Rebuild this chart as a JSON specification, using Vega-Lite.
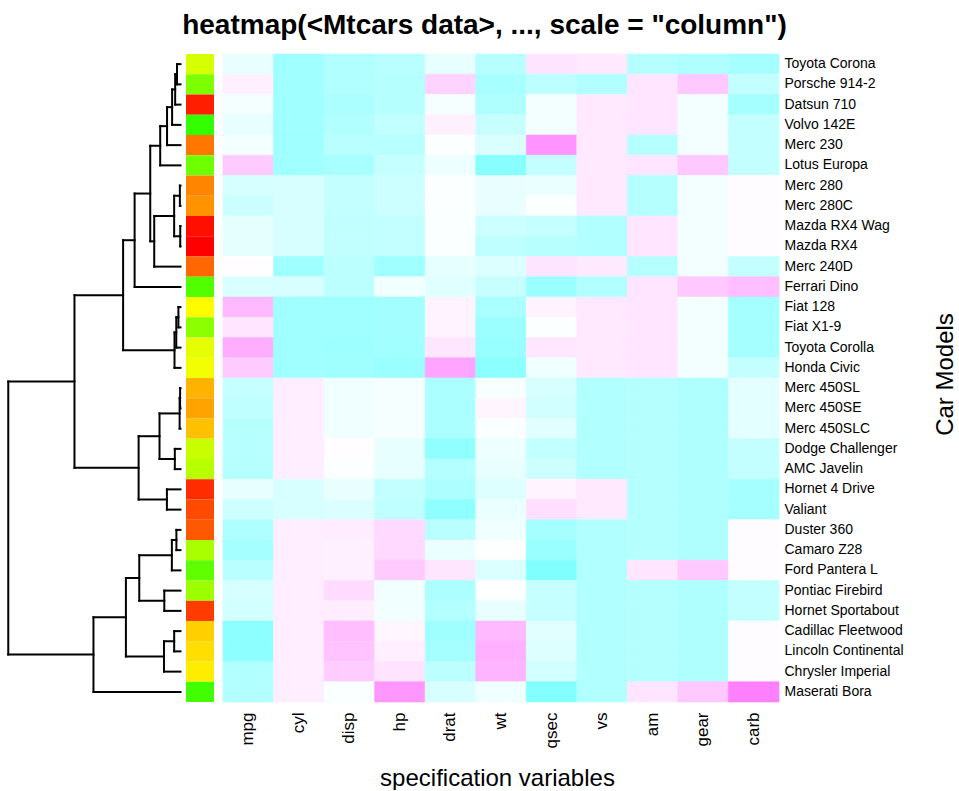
{
  "$schema": "https://vega.github.io/schema/vega-lite/v6.json",
  "background": "white",
  "padding": {"left": 0, "top": 11, "right": 0, "bottom": 0},
  "title": {"text": "heatmap(<Mtcars data>, ..., scale = \"column\")", "fontSize": 28, "fontWeight": "bold", "font": "Liberation Sans", "color": "black", "anchor": "middle", "offset": 14, "dx": 6},
  "config": {"view": {"stroke": null}, "font": "Liberation Sans"},
  "datasets": {
    "tree": [
      {"h": 8.65, "yl": 1, "hl": 0, "yr": 2, "hr": 0},
      {"h": 13.14, "yl": 1.5, "hl": 8.65, "yr": 3, "hr": 0},
      {"h": 20.7, "yl": 2.25, "hl": 13.14, "yr": 4, "hr": 0},
      {"h": 33.2, "yl": 3.125, "hl": 20.7, "yr": 5, "hr": 0},
      {"h": 50.1, "yl": 4.0625, "hl": 33.2, "yr": 6, "hr": 0},
      {"h": 1.52, "yl": 7, "hl": 0, "yr": 8, "hr": 0},
      {"h": 0.62, "yl": 9, "hl": 0, "yr": 10, "hr": 0},
      {"h": 15.67, "yl": 7.5, "hl": 1.52, "yr": 9.5, "hr": 0.62},
      {"h": 64.86, "yl": 8.5, "hl": 15.67, "yr": 11, "hr": 0},
      {"h": 74.7, "yl": 5.03125, "hl": 50.1, "yr": 9.75, "hr": 64.86},
      {"h": 113.3, "yl": 7.390625, "hl": 74.7, "yr": 12, "hr": 0},
      {"h": 5.15, "yl": 13, "hl": 0, "yr": 14, "hr": 0},
      {"h": 10.4, "yl": 13.5, "hl": 5.15, "yr": 15, "hr": 0},
      {"h": 14.8, "yl": 14.25, "hl": 10.4, "yr": 16, "hr": 0},
      {"h": 141.7, "yl": 9.6953, "hl": 113.3, "yr": 15.125, "hr": 14.8},
      {"h": 0.98, "yl": 17, "hl": 0, "yr": 18, "hr": 0},
      {"h": 2.14, "yl": 17.5, "hl": 0.98, "yr": 19, "hr": 0},
      {"h": 14.0, "yl": 20, "hl": 0, "yr": 21, "hr": 0},
      {"h": 51.8, "yl": 18.25, "hl": 2.14, "yr": 20.5, "hr": 14.0},
      {"h": 33.55, "yl": 22, "hl": 0, "yr": 23, "hr": 0},
      {"h": 103.4, "yl": 19.375, "hl": 51.8, "yr": 22.5, "hr": 33.55},
      {"h": 261.8, "yl": 12.4102, "hl": 141.7, "yr": 20.9375, "hr": 103.4},
      {"h": 10.1, "yl": 24, "hl": 0, "yr": 25, "hr": 0},
      {"h": 21.3, "yl": 24.5, "hl": 10.1, "yr": 26, "hr": 0},
      {"h": 40.0, "yl": 27, "hl": 0, "yr": 28, "hr": 0},
      {"h": 101.8, "yl": 25.25, "hl": 21.3, "yr": 27.5, "hr": 40.0},
      {"h": 15.6, "yl": 29, "hl": 0, "yr": 30, "hr": 0},
      {"h": 40.8, "yl": 29.5, "hl": 15.6, "yr": 31, "hr": 0},
      {"h": 134.8, "yl": 26.375, "hl": 101.8, "yr": 30.25, "hr": 40.8},
      {"h": 214.9, "yl": 28.3125, "hl": 134.8, "yr": 32, "hr": 0},
      {"h": 425.3, "yl": 16.6738, "hl": 261.8, "yr": 30.1563, "hr": 214.9}
    ],
    "cars": [
      {"car": "Toyota Corona"}, {"car": "Porsche 914-2"}, {"car": "Datsun 710"}, {"car": "Volvo 142E"},
      {"car": "Merc 230"}, {"car": "Lotus Europa"}, {"car": "Merc 280"}, {"car": "Merc 280C"},
      {"car": "Mazda RX4 Wag"}, {"car": "Mazda RX4"}, {"car": "Merc 240D"}, {"car": "Ferrari Dino"},
      {"car": "Fiat 128"}, {"car": "Fiat X1-9"}, {"car": "Toyota Corolla"}, {"car": "Honda Civic"},
      {"car": "Merc 450SL"}, {"car": "Merc 450SE"}, {"car": "Merc 450SLC"}, {"car": "Dodge Challenger"},
      {"car": "AMC Javelin"}, {"car": "Hornet 4 Drive"}, {"car": "Valiant"}, {"car": "Duster 360"},
      {"car": "Camaro Z28"}, {"car": "Ford Pantera L"}, {"car": "Pontiac Firebird"}, {"car": "Hornet Sportabout"},
      {"car": "Cadillac Fleetwood"}, {"car": "Lincoln Continental"}, {"car": "Chrysler Imperial"}, {"car": "Maserati Bora"}
    ],
    "cells": [
      {"car":"Toyota Corona","v":"mpg","z":0.234},{"car":"Toyota Corona","v":"cyl","z":-1.225},{"car":"Toyota Corona","v":"disp","z":-0.893},{"car":"Toyota Corona","v":"hp","z":-0.725},{"car":"Toyota Corona","v":"drat","z":0.193},{"car":"Toyota Corona","v":"wt","z":-0.769},{"car":"Toyota Corona","v":"qsec","z":1.209},{"car":"Toyota Corona","v":"vs","z":1.116},{"car":"Toyota Corona","v":"am","z":-0.814},{"car":"Toyota Corona","v":"gear","z":-0.932},{"car":"Toyota Corona","v":"carb","z":-1.122},
      {"car":"Porsche 914-2","v":"mpg","z":0.981},{"car":"Porsche 914-2","v":"cyl","z":-1.225},{"car":"Porsche 914-2","v":"disp","z":-0.891},{"car":"Porsche 914-2","v":"hp","z":-0.812},{"car":"Porsche 914-2","v":"drat","z":1.559},{"car":"Porsche 914-2","v":"wt","z":-1.101},{"car":"Porsche 914-2","v":"qsec","z":-0.643},{"car":"Porsche 914-2","v":"vs","z":-0.868},{"car":"Porsche 914-2","v":"am","z":1.19},{"car":"Porsche 914-2","v":"gear","z":1.779},{"car":"Porsche 914-2","v":"carb","z":-0.503},
      {"car":"Datsun 710","v":"mpg","z":0.45},{"car":"Datsun 710","v":"cyl","z":-1.225},{"car":"Datsun 710","v":"disp","z":-0.99},{"car":"Datsun 710","v":"hp","z":-0.783},{"car":"Datsun 710","v":"drat","z":0.474},{"car":"Datsun 710","v":"wt","z":-0.917},{"car":"Datsun 710","v":"qsec","z":0.426},{"car":"Datsun 710","v":"vs","z":1.116},{"car":"Datsun 710","v":"am","z":1.19},{"car":"Datsun 710","v":"gear","z":0.424},{"car":"Datsun 710","v":"carb","z":-1.122},
      {"car":"Volvo 142E","v":"mpg","z":0.217},{"car":"Volvo 142E","v":"cyl","z":-1.225},{"car":"Volvo 142E","v":"disp","z":-0.885},{"car":"Volvo 142E","v":"hp","z":-0.55},{"car":"Volvo 142E","v":"drat","z":0.96},{"car":"Volvo 142E","v":"wt","z":-0.447},{"car":"Volvo 142E","v":"qsec","z":0.42},{"car":"Volvo 142E","v":"vs","z":1.116},{"car":"Volvo 142E","v":"am","z":1.19},{"car":"Volvo 142E","v":"gear","z":0.424},{"car":"Volvo 142E","v":"carb","z":-0.503},
      {"car":"Merc 230","v":"mpg","z":0.45},{"car":"Merc 230","v":"cyl","z":-1.225},{"car":"Merc 230","v":"disp","z":-0.726},{"car":"Merc 230","v":"hp","z":-0.754},{"car":"Merc 230","v":"drat","z":0.605},{"car":"Merc 230","v":"wt","z":-0.069},{"car":"Merc 230","v":"qsec","z":2.827},{"car":"Merc 230","v":"vs","z":1.116},{"car":"Merc 230","v":"am","z":-0.814},{"car":"Merc 230","v":"gear","z":0.424},{"car":"Merc 230","v":"carb","z":-0.503},
      {"car":"Lotus Europa","v":"mpg","z":1.711},{"car":"Lotus Europa","v":"cyl","z":-1.225},{"car":"Lotus Europa","v":"disp","z":-1.094},{"car":"Lotus Europa","v":"hp","z":-0.491},{"car":"Lotus Europa","v":"drat","z":0.324},{"car":"Lotus Europa","v":"wt","z":-1.742},{"car":"Lotus Europa","v":"qsec","z":-0.531},{"car":"Lotus Europa","v":"vs","z":1.116},{"car":"Lotus Europa","v":"am","z":1.19},{"car":"Lotus Europa","v":"gear","z":1.779},{"car":"Lotus Europa","v":"carb","z":-0.503},
      {"car":"Merc 280","v":"mpg","z":-0.148},{"car":"Merc 280","v":"cyl","z":-0.105},{"car":"Merc 280","v":"disp","z":-0.509},{"car":"Merc 280","v":"hp","z":-0.346},{"car":"Merc 280","v":"drat","z":0.605},{"car":"Merc 280","v":"wt","z":0.228},{"car":"Merc 280","v":"qsec","z":0.253},{"car":"Merc 280","v":"vs","z":1.116},{"car":"Merc 280","v":"am","z":-0.814},{"car":"Merc 280","v":"gear","z":0.424},{"car":"Merc 280","v":"carb","z":0.735},
      {"car":"Merc 280C","v":"mpg","z":-0.38},{"car":"Merc 280C","v":"cyl","z":-0.105},{"car":"Merc 280C","v":"disp","z":-0.509},{"car":"Merc 280C","v":"hp","z":-0.346},{"car":"Merc 280C","v":"drat","z":0.605},{"car":"Merc 280C","v":"wt","z":0.228},{"car":"Merc 280C","v":"qsec","z":0.588},{"car":"Merc 280C","v":"vs","z":1.116},{"car":"Merc 280C","v":"am","z":-0.814},{"car":"Merc 280C","v":"gear","z":0.424},{"car":"Merc 280C","v":"carb","z":0.735},
      {"car":"Mazda RX4 Wag","v":"mpg","z":0.151},{"car":"Mazda RX4 Wag","v":"cyl","z":-0.105},{"car":"Mazda RX4 Wag","v":"disp","z":-0.571},{"car":"Mazda RX4 Wag","v":"hp","z":-0.535},{"car":"Mazda RX4 Wag","v":"drat","z":0.568},{"car":"Mazda RX4 Wag","v":"wt","z":-0.35},{"car":"Mazda RX4 Wag","v":"qsec","z":-0.464},{"car":"Mazda RX4 Wag","v":"vs","z":-0.868},{"car":"Mazda RX4 Wag","v":"am","z":1.19},{"car":"Mazda RX4 Wag","v":"gear","z":0.424},{"car":"Mazda RX4 Wag","v":"carb","z":0.735},
      {"car":"Mazda RX4","v":"mpg","z":0.151},{"car":"Mazda RX4","v":"cyl","z":-0.105},{"car":"Mazda RX4","v":"disp","z":-0.571},{"car":"Mazda RX4","v":"hp","z":-0.535},{"car":"Mazda RX4","v":"drat","z":0.568},{"car":"Mazda RX4","v":"wt","z":-0.61},{"car":"Mazda RX4","v":"qsec","z":-0.777},{"car":"Mazda RX4","v":"vs","z":-0.868},{"car":"Mazda RX4","v":"am","z":1.19},{"car":"Mazda RX4","v":"gear","z":0.424},{"car":"Mazda RX4","v":"carb","z":0.735},
      {"car":"Merc 240D","v":"mpg","z":0.715},{"car":"Merc 240D","v":"cyl","z":-1.225},{"car":"Merc 240D","v":"disp","z":-0.678},{"car":"Merc 240D","v":"hp","z":-1.235},{"car":"Merc 240D","v":"drat","z":0.175},{"car":"Merc 240D","v":"wt","z":-0.028},{"car":"Merc 240D","v":"qsec","z":1.204},{"car":"Merc 240D","v":"vs","z":1.116},{"car":"Merc 240D","v":"am","z":-0.814},{"car":"Merc 240D","v":"gear","z":0.424},{"car":"Merc 240D","v":"carb","z":-0.503},
      {"car":"Ferrari Dino","v":"mpg","z":-0.065},{"car":"Ferrari Dino","v":"cyl","z":-0.105},{"car":"Ferrari Dino","v":"disp","z":-0.692},{"car":"Ferrari Dino","v":"hp","z":0.413},{"car":"Ferrari Dino","v":"drat","z":0.044},{"car":"Ferrari Dino","v":"wt","z":-0.457},{"car":"Ferrari Dino","v":"qsec","z":-1.314},{"car":"Ferrari Dino","v":"vs","z":-0.868},{"car":"Ferrari Dino","v":"am","z":1.19},{"car":"Ferrari Dino","v":"gear","z":1.779},{"car":"Ferrari Dino","v":"carb","z":1.974},
      {"car":"Fiat 128","v":"mpg","z":2.042},{"car":"Fiat 128","v":"cyl","z":-1.225},{"car":"Fiat 128","v":"disp","z":-1.227},{"car":"Fiat 128","v":"hp","z":-1.177},{"car":"Fiat 128","v":"drat","z":0.904},{"car":"Fiat 128","v":"wt","z":-1.04},{"car":"Fiat 128","v":"qsec","z":0.907},{"car":"Fiat 128","v":"vs","z":1.116},{"car":"Fiat 128","v":"am","z":1.19},{"car":"Fiat 128","v":"gear","z":0.424},{"car":"Fiat 128","v":"carb","z":-1.122},
      {"car":"Fiat X1-9","v":"mpg","z":1.196},{"car":"Fiat X1-9","v":"cyl","z":-1.225},{"car":"Fiat X1-9","v":"disp","z":-1.224},{"car":"Fiat X1-9","v":"hp","z":-1.177},{"car":"Fiat X1-9","v":"drat","z":0.904},{"car":"Fiat X1-9","v":"wt","z":-1.31},{"car":"Fiat X1-9","v":"qsec","z":0.588},{"car":"Fiat X1-9","v":"vs","z":1.116},{"car":"Fiat X1-9","v":"am","z":1.19},{"car":"Fiat X1-9","v":"gear","z":0.424},{"car":"Fiat X1-9","v":"carb","z":-1.122},
      {"car":"Toyota Corolla","v":"mpg","z":2.291},{"car":"Toyota Corolla","v":"cyl","z":-1.225},{"car":"Toyota Corolla","v":"disp","z":-1.288},{"car":"Toyota Corolla","v":"hp","z":-1.192},{"car":"Toyota Corolla","v":"drat","z":1.166},{"car":"Toyota Corolla","v":"wt","z":-1.413},{"car":"Toyota Corolla","v":"qsec","z":1.148},{"car":"Toyota Corolla","v":"vs","z":1.116},{"car":"Toyota Corolla","v":"am","z":1.19},{"car":"Toyota Corolla","v":"gear","z":0.424},{"car":"Toyota Corolla","v":"carb","z":-1.122},
      {"car":"Honda Civic","v":"mpg","z":1.711},{"car":"Honda Civic","v":"cyl","z":-1.225},{"car":"Honda Civic","v":"disp","z":-1.251},{"car":"Honda Civic","v":"hp","z":-1.381},{"car":"Honda Civic","v":"drat","z":2.494},{"car":"Honda Civic","v":"wt","z":-1.638},{"car":"Honda Civic","v":"qsec","z":0.376},{"car":"Honda Civic","v":"vs","z":1.116},{"car":"Honda Civic","v":"am","z":1.19},{"car":"Honda Civic","v":"gear","z":0.424},{"car":"Honda Civic","v":"carb","z":-0.503},
      {"car":"Merc 450SL","v":"mpg","z":-0.463},{"car":"Merc 450SL","v":"cyl","z":1.015},{"car":"Merc 450SL","v":"disp","z":0.364},{"car":"Merc 450SL","v":"hp","z":0.486},{"car":"Merc 450SL","v":"drat","z":-0.985},{"car":"Merc 450SL","v":"wt","z":0.524},{"car":"Merc 450SL","v":"qsec","z":-0.139},{"car":"Merc 450SL","v":"vs","z":-0.868},{"car":"Merc 450SL","v":"am","z":-0.814},{"car":"Merc 450SL","v":"gear","z":-0.932},{"car":"Merc 450SL","v":"carb","z":0.116},
      {"car":"Merc 450SE","v":"mpg","z":-0.612},{"car":"Merc 450SE","v":"cyl","z":1.015},{"car":"Merc 450SE","v":"disp","z":0.364},{"car":"Merc 450SE","v":"hp","z":0.486},{"car":"Merc 450SE","v":"drat","z":-0.985},{"car":"Merc 450SE","v":"wt","z":0.872},{"car":"Merc 450SE","v":"qsec","z":-0.251},{"car":"Merc 450SE","v":"vs","z":-0.868},{"car":"Merc 450SE","v":"am","z":-0.814},{"car":"Merc 450SE","v":"gear","z":-0.932},{"car":"Merc 450SE","v":"carb","z":0.116},
      {"car":"Merc 450SLC","v":"mpg","z":-0.812},{"car":"Merc 450SLC","v":"cyl","z":1.015},{"car":"Merc 450SLC","v":"disp","z":0.364},{"car":"Merc 450SLC","v":"hp","z":0.486},{"car":"Merc 450SLC","v":"drat","z":-0.985},{"car":"Merc 450SLC","v":"wt","z":0.575},{"car":"Merc 450SLC","v":"qsec","z":0.085},{"car":"Merc 450SLC","v":"vs","z":-0.868},{"car":"Merc 450SLC","v":"am","z":-0.814},{"car":"Merc 450SLC","v":"gear","z":-0.932},{"car":"Merc 450SLC","v":"carb","z":0.116},
      {"car":"Dodge Challenger","v":"mpg","z":-0.762},{"car":"Dodge Challenger","v":"cyl","z":1.015},{"car":"Dodge Challenger","v":"disp","z":0.704},{"car":"Dodge Challenger","v":"hp","z":0.194},{"car":"Dodge Challenger","v":"drat","z":-1.565},{"car":"Dodge Challenger","v":"wt","z":0.309},{"car":"Dodge Challenger","v":"qsec","z":-0.548},{"car":"Dodge Challenger","v":"vs","z":-0.868},{"car":"Dodge Challenger","v":"am","z":-0.814},{"car":"Dodge Challenger","v":"gear","z":-0.932},{"car":"Dodge Challenger","v":"carb","z":-0.503},
      {"car":"AMC Javelin","v":"mpg","z":-0.812},{"car":"AMC Javelin","v":"cyl","z":1.015},{"car":"AMC Javelin","v":"disp","z":0.591},{"car":"AMC Javelin","v":"hp","z":0.194},{"car":"AMC Javelin","v":"drat","z":-0.835},{"car":"AMC Javelin","v":"wt","z":0.223},{"car":"AMC Javelin","v":"qsec","z":-0.307},{"car":"AMC Javelin","v":"vs","z":-0.868},{"car":"AMC Javelin","v":"am","z":-0.814},{"car":"AMC Javelin","v":"gear","z":-0.932},{"car":"AMC Javelin","v":"carb","z":-0.503},
      {"car":"Hornet 4 Drive","v":"mpg","z":0.217},{"car":"Hornet 4 Drive","v":"cyl","z":-0.105},{"car":"Hornet 4 Drive","v":"disp","z":0.22},{"car":"Hornet 4 Drive","v":"hp","z":-0.535},{"car":"Hornet 4 Drive","v":"drat","z":-0.966},{"car":"Hornet 4 Drive","v":"wt","z":-0.002},{"car":"Hornet 4 Drive","v":"qsec","z":0.89},{"car":"Hornet 4 Drive","v":"vs","z":1.116},{"car":"Hornet 4 Drive","v":"am","z":-0.814},{"car":"Hornet 4 Drive","v":"gear","z":-0.932},{"car":"Hornet 4 Drive","v":"carb","z":-1.122},
      {"car":"Valiant","v":"mpg","z":-0.33},{"car":"Valiant","v":"cyl","z":-0.105},{"car":"Valiant","v":"disp","z":-0.046},{"car":"Valiant","v":"hp","z":-0.608},{"car":"Valiant","v":"drat","z":-1.565},{"car":"Valiant","v":"wt","z":0.248},{"car":"Valiant","v":"qsec","z":1.327},{"car":"Valiant","v":"vs","z":1.116},{"car":"Valiant","v":"am","z":-0.814},{"car":"Valiant","v":"gear","z":-0.932},{"car":"Valiant","v":"carb","z":-1.122},
      {"car":"Duster 360","v":"mpg","z":-0.961},{"car":"Duster 360","v":"cyl","z":1.015},{"car":"Duster 360","v":"disp","z":1.043},{"car":"Duster 360","v":"hp","z":1.434},{"car":"Duster 360","v":"drat","z":-0.723},{"car":"Duster 360","v":"wt","z":0.361},{"car":"Duster 360","v":"qsec","z":-1.124},{"car":"Duster 360","v":"vs","z":-0.868},{"car":"Duster 360","v":"am","z":-0.814},{"car":"Duster 360","v":"gear","z":-0.932},{"car":"Duster 360","v":"carb","z":0.735},
      {"car":"Camaro Z28","v":"mpg","z":-1.127},{"car":"Camaro Z28","v":"cyl","z":1.015},{"car":"Camaro Z28","v":"disp","z":0.962},{"car":"Camaro Z28","v":"hp","z":1.434},{"car":"Camaro Z28","v":"drat","z":0.25},{"car":"Camaro Z28","v":"wt","z":0.636},{"car":"Camaro Z28","v":"qsec","z":-1.365},{"car":"Camaro Z28","v":"vs","z":-0.868},{"car":"Camaro Z28","v":"am","z":-0.814},{"car":"Camaro Z28","v":"gear","z":-0.932},{"car":"Camaro Z28","v":"carb","z":0.735},
      {"car":"Ford Pantera L","v":"mpg","z":-0.712},{"car":"Ford Pantera L","v":"cyl","z":1.015},{"car":"Ford Pantera L","v":"disp","z":0.97},{"car":"Ford Pantera L","v":"hp","z":1.711},{"car":"Ford Pantera L","v":"drat","z":1.166},{"car":"Ford Pantera L","v":"wt","z":-0.048},{"car":"Ford Pantera L","v":"qsec","z":-1.874},{"car":"Ford Pantera L","v":"vs","z":-0.868},{"car":"Ford Pantera L","v":"am","z":1.19},{"car":"Ford Pantera L","v":"gear","z":1.779},{"car":"Ford Pantera L","v":"carb","z":0.735},
      {"car":"Pontiac Firebird","v":"mpg","z":-0.148},{"car":"Pontiac Firebird","v":"cyl","z":1.015},{"car":"Pontiac Firebird","v":"disp","z":1.366},{"car":"Pontiac Firebird","v":"hp","z":0.413},{"car":"Pontiac Firebird","v":"drat","z":-0.966},{"car":"Pontiac Firebird","v":"wt","z":0.642},{"car":"Pontiac Firebird","v":"qsec","z":-0.447},{"car":"Pontiac Firebird","v":"vs","z":-0.868},{"car":"Pontiac Firebird","v":"am","z":-0.814},{"car":"Pontiac Firebird","v":"gear","z":-0.932},{"car":"Pontiac Firebird","v":"carb","z":-0.503},
      {"car":"Hornet Sportabout","v":"mpg","z":-0.231},{"car":"Hornet Sportabout","v":"cyl","z":1.015},{"car":"Hornet Sportabout","v":"disp","z":1.043},{"car":"Hornet Sportabout","v":"hp","z":0.413},{"car":"Hornet Sportabout","v":"drat","z":-0.835},{"car":"Hornet Sportabout","v":"wt","z":0.228},{"car":"Hornet Sportabout","v":"qsec","z":-0.464},{"car":"Hornet Sportabout","v":"vs","z":-0.868},{"car":"Hornet Sportabout","v":"am","z":-0.814},{"car":"Hornet Sportabout","v":"gear","z":-0.932},{"car":"Hornet Sportabout","v":"carb","z":-0.503},
      {"car":"Cadillac Fleetwood","v":"mpg","z":-1.608},{"car":"Cadillac Fleetwood","v":"cyl","z":1.015},{"car":"Cadillac Fleetwood","v":"disp","z":1.947},{"car":"Cadillac Fleetwood","v":"hp","z":0.85},{"car":"Cadillac Fleetwood","v":"drat","z":-1.247},{"car":"Cadillac Fleetwood","v":"wt","z":2.077},{"car":"Cadillac Fleetwood","v":"qsec","z":0.073},{"car":"Cadillac Fleetwood","v":"vs","z":-0.868},{"car":"Cadillac Fleetwood","v":"am","z":-0.814},{"car":"Cadillac Fleetwood","v":"gear","z":-0.932},{"car":"Cadillac Fleetwood","v":"carb","z":0.735},
      {"car":"Lincoln Continental","v":"mpg","z":-1.608},{"car":"Lincoln Continental","v":"cyl","z":1.015},{"car":"Lincoln Continental","v":"disp","z":1.85},{"car":"Lincoln Continental","v":"hp","z":0.996},{"car":"Lincoln Continental","v":"drat","z":-1.116},{"car":"Lincoln Continental","v":"wt","z":2.255},{"car":"Lincoln Continental","v":"qsec","z":-0.016},{"car":"Lincoln Continental","v":"vs","z":-0.868},{"car":"Lincoln Continental","v":"am","z":-0.814},{"car":"Lincoln Continental","v":"gear","z":-0.932},{"car":"Lincoln Continental","v":"carb","z":0.735},
      {"car":"Chrysler Imperial","v":"mpg","z":-0.894},{"car":"Chrysler Imperial","v":"cyl","z":1.015},{"car":"Chrysler Imperial","v":"disp","z":1.689},{"car":"Chrysler Imperial","v":"hp","z":1.215},{"car":"Chrysler Imperial","v":"drat","z":-0.686},{"car":"Chrysler Imperial","v":"wt","z":2.175},{"car":"Chrysler Imperial","v":"qsec","z":-0.24},{"car":"Chrysler Imperial","v":"vs","z":-0.868},{"car":"Chrysler Imperial","v":"am","z":-0.814},{"car":"Chrysler Imperial","v":"gear","z":-0.932},{"car":"Chrysler Imperial","v":"carb","z":0.735},
      {"car":"Maserati Bora","v":"mpg","z":-0.845},{"car":"Maserati Bora","v":"cyl","z":1.015},{"car":"Maserati Bora","v":"disp","z":0.567},{"car":"Maserati Bora","v":"hp","z":2.747},{"car":"Maserati Bora","v":"drat","z":-0.106},{"car":"Maserati Bora","v":"wt","z":0.361},{"car":"Maserati Bora","v":"qsec","z":-1.818},{"car":"Maserati Bora","v":"vs","z":-0.868},{"car":"Maserati Bora","v":"am","z":1.19},{"car":"Maserati Bora","v":"gear","z":1.779},{"car":"Maserati Bora","v":"carb","z":3.212}
    ]
  },
  "spacing": 8,
  "hconcat": [
    {
      "spacing": 0,
      "hconcat": [
        {
          "width": 186,
          "height": 648,
          "data": {"name": "tree"},
          "layer": [
            {
              "mark": {"type": "rule", "color": "black", "strokeWidth": 2, "strokeCap": "square"},
              "encoding": {
                "x": {"field": "h", "type": "quantitative", "scale": {"domain": [-13.6, 445.7], "reverse": true, "nice": false, "zero": false}, "axis": null},
                "y": {"field": "yl", "type": "quantitative", "scale": {"domain": [0.5, 32.5], "reverse": true, "nice": false, "zero": false}, "axis": null},
                "y2": {"field": "yr"}
              }
            },
            {
              "mark": {"type": "rule", "color": "black", "strokeWidth": 2, "strokeCap": "square"},
              "encoding": {
                "x": {"field": "hl", "type": "quantitative", "axis": null},
                "x2": {"field": "h"},
                "y": {"field": "yl", "type": "quantitative", "axis": null}
              }
            },
            {
              "mark": {"type": "rule", "color": "black", "strokeWidth": 2, "strokeCap": "square"},
              "encoding": {
                "x": {"field": "hr", "type": "quantitative", "axis": null},
                "x2": {"field": "h"},
                "y": {"field": "yr", "type": "quantitative", "axis": null}
              }
            }
          ]
        },
        {
          "width": 28,
          "height": 648,
          "data": {"name": "cars"},
          "mark": {"type": "rect"},
          "encoding": {
            "y": {"field": "car", "type": "nominal", "sort": null, "axis": null, "scale": {"paddingInner": 0, "paddingOuter": 0}},
            "color": {
              "field": "car", "type": "nominal", "legend": null,
              "scale": {
                "domain": ["Toyota Corona","Porsche 914-2","Datsun 710","Volvo 142E","Merc 230","Lotus Europa","Merc 280","Merc 280C","Mazda RX4 Wag","Mazda RX4","Merc 240D","Ferrari Dino","Fiat 128","Fiat X1-9","Toyota Corolla","Honda Civic","Merc 450SL","Merc 450SE","Merc 450SLC","Dodge Challenger","AMC Javelin","Hornet 4 Drive","Valiant","Duster 360","Camaro Z28","Ford Pantera L","Pontiac Firebird","Hornet Sportabout","Cadillac Fleetwood","Lincoln Continental","Chrysler Imperial","Maserati Bora"],
                "range": ["#D6FF00","#7DFF00","#FF1E00","#33FF00","#FF7600","#6EFF00","#FF8500","#FF9400","#FF0F00","#FF0000","#FF6800","#51FF00","#FFFC00","#8CFF00","#E5FF00","#F3FF00","#FFB200","#FFA300","#FFC000","#C7FF00","#B8FF00","#FF2C00","#FF4A00","#FF5900","#A9FF00","#5FFF00","#9BFF00","#FF3B00","#FFCF00","#FFDE00","#FFED00","#42FF00"]
              }
            }
          }
        }
      ]
    },
    {
      "width": 556,
      "height": 648,
      "data": {"name": "cells"},
      "mark": {"type": "rect", "strokeWidth": 0.6},
      "encoding": {
        "x": {
          "field": "v", "type": "nominal", "sort": null,
          "scale": {"paddingInner": 0, "paddingOuter": 0},
          "axis": {
            "title": "specification variables", "orient": "bottom",
            "labelAngle": -90, "labelAlign": "right", "labelBaseline": "middle",
            "labelPadding": 10, "labelFontSize": 17, "labelFont": "Liberation Sans", "labelColor": "black",
            "ticks": false, "domain": false,
            "titleFontSize": 24, "titleFontWeight": "normal", "titleFont": "Liberation Sans", "titleColor": "black",
            "titleX": 274, "titleY": 83, "titleAlign": "center", "titleBaseline": "alphabetic"
          }
        },
        "y": {
          "field": "car", "type": "nominal", "sort": null,
          "scale": {"paddingInner": 0, "paddingOuter": 0},
          "axis": {
            "title": "Car Models", "orient": "right",
            "labelPadding": 5, "labelFontSize": 14, "labelFont": "Liberation Sans", "labelColor": "black",
            "ticks": false, "domain": false,
            "titleFontSize": 24, "titleFontWeight": "normal", "titleFont": "Liberation Sans", "titleColor": "black",
            "titleAngle": 270, "titleX": 166, "titleY": 320, "titleAlign": "center", "titleBaseline": "middle"
          }
        },
        "color": {
          "field": "z", "type": "quantitative", "legend": null,
          "scale": {"domain": [-1.874, 0.669, 3.212], "range": ["#80FFFF", "#FFFFFF", "#FF80FF"], "interpolate": "rgb"}
        },
        "stroke": {
          "field": "z", "type": "quantitative", "legend": null,
          "scale": {"domain": [-1.874, 0.669, 3.212], "range": ["#80FFFF", "#FFFFFF", "#FF80FF"], "interpolate": "rgb"}
        }
      }
    }
  ]
}
